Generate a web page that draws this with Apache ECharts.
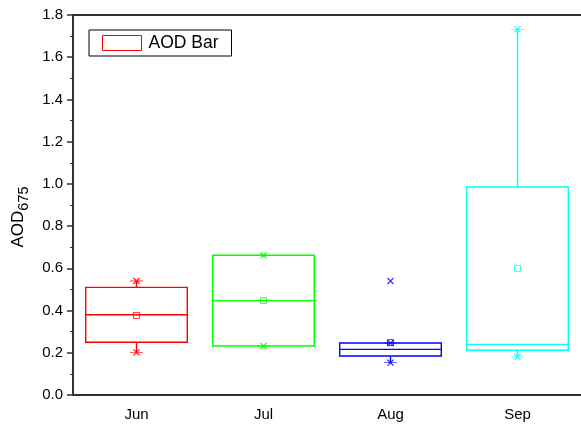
<!DOCTYPE html>
<html>
<head>
<meta charset="utf-8">
<script src="https://cdn.jsdelivr.net/npm/echarts@6/dist/echarts.min.js"></script>
<style>
  html, body { margin: 0; padding: 0; background: #fff; }
  #chart { width: 581px; height: 430px; }
</style>
</head>
<body>
<div id="chart"></div>
<script>
// months on the x axis
var months = ['Jun', 'Jul', 'Aug', 'Sep'];
// box statistics (AOD 675)
var whiskerMin = [0.202, 0.232, 0.153, 0.181];
var q1 = [0.250, 0.232, 0.185, 0.212];
var median = [0.380, 0.447, 0.216, 0.240];
var q3 = [0.510, 0.662, 0.246, 0.985];
var whiskerMax = [0.540, 0.662, 0.246, 1.732];
var mean = [0.377, 0.447, 0.248, 0.600];
// outliers: [month index, value]
var outliers = [[2, 0.540]];
var yTicks = [0, 0.2, 0.4, 0.6, 0.8, 1.0, 1.2, 1.4, 1.6, 1.8];

var monthColors = ['#ff0000', '#00ff00', '#0000ff', '#00ffff'];
var axisColor = '#333333';
var font = 'Liberation Sans, Arial, sans-serif';
var starPath = 'path://M0,3L13,3M3.5,0L9.5,6M9.5,0L3.5,6';
var crossPath = 'path://M0,0L6,6M6,0L0,6';

var boxData = months.map(function (m, i) {
  return [i, whiskerMin[i], q1[i], median[i], q3[i], whiskerMax[i]];
});

var meanData = months.map(function (m, i) {
  return {
    value: [i, mean[i]],
    itemStyle: { color: 'transparent', borderColor: monthColors[i], borderWidth: 1 }
  };
});

var extremeData = [];
months.forEach(function (m, i) {
  [whiskerMin[i], whiskerMax[i]].forEach(function (v) {
    extremeData.push({
      value: [i, v],
      itemStyle: { color: 'transparent', borderColor: monthColors[i], borderWidth: 1.2 }
    });
  });
});

var outlierData = outliers.map(function (o) {
  return {
    value: o,
    itemStyle: { color: 'transparent', borderColor: monthColors[o[0]], borderWidth: 1.2 }
  };
});

function renderBox(params, api) {
  var i = api.value(0);
  var c = monthColors[i];
  var w = api.size([1, 0])[0] * 0.8;
  var pMin = api.coord([i, api.value(1)]);
  var pQ1 = api.coord([i, api.value(2)]);
  var pMed = api.coord([i, api.value(3)]);
  var pQ3 = api.coord([i, api.value(4)]);
  var pMax = api.coord([i, api.value(5)]);
  var x0 = pQ1[0] - w / 2;
  var st = { stroke: c, lineWidth: 1.4, fill: null };
  return {
    type: 'group',
    children: [
      { type: 'line', shape: { x1: pMax[0], y1: pMax[1], x2: pQ3[0], y2: pQ3[1] }, style: st },
      { type: 'line', shape: { x1: pMin[0], y1: pMin[1], x2: pQ1[0], y2: pQ1[1] }, style: st },
      { type: 'rect', shape: { x: x0, y: pQ3[1], width: w, height: pQ1[1] - pQ3[1] }, style: st },
      { type: 'line', shape: { x1: x0, y1: pMed[1], x2: x0 + w, y2: pMed[1] }, style: st }
    ]
  };
}

var myChart = echarts.init(document.getElementById('chart'));
var option = {
  animation: false,
  textStyle: { fontFamily: font },
  grid: { left: 73, right: -2, top: 15, bottom: 35 },
  legend: {
    data: ['AOD Bar'],
    left: 89,
    top: 30,
    icon: 'rect',
    itemWidth: 39,
    itemHeight: 15,
    itemGap: 0,
    itemStyle: { color: 'transparent', borderColor: '#ff0000', borderWidth: 1 },
    borderColor: '#000',
    borderWidth: 1,
    borderRadius: 0,
    padding: [4, 13, 4, 13],
    textStyle: { fontSize: 17.5, color: '#000', fontFamily: font, padding: [0, 0, 0, 2] }
  },
  xAxis: [{
    type: 'category',
    data: months,
    boundaryGap: true,
    axisLine: { lineStyle: { color: axisColor, width: 2 } },
    axisTick: { alignWithLabel: true, length: 5, lineStyle: { color: axisColor, width: 1.5 } },
    axisLabel: { fontSize: 15, color: '#000', margin: 12 },
    splitLine: { show: false }
  }, {
    type: 'category',
    data: months,
    position: 'top',
    axisLine: { lineStyle: { color: axisColor, width: 2 } },
    axisTick: { show: false },
    axisLabel: { show: false }
  }],
  yAxis: {
    type: 'value',
    min: 0,
    max: 1.8,
    interval: 0.2,
    name: '{a|AOD}{b|675}',
    nameLocation: 'middle',
    nameRotate: 90,
    nameGap: 40,
    nameTextStyle: {
      padding: [0, 24, 0, 0],
      rich: {
        a: { fontSize: 17, color: '#000', lineHeight: 26, fontFamily: font },
        b: { fontSize: 14.5, color: '#000', lineHeight: 26, verticalAlign: 'bottom', fontFamily: font }
      }
    },
    axisLine: { show: true, lineStyle: { color: axisColor, width: 2 } },
    axisTick: { show: true, length: 6, lineStyle: { color: axisColor, width: 1.5 } },
    minorTick: { show: true, splitNumber: 2, length: 3, lineStyle: { color: axisColor, width: 1 } },
    axisLabel: {
      fontSize: 15,
      color: '#000',
      margin: 10,
      formatter: function (v) {
        var hit = yTicks.filter(function (t) { return Math.abs(t - v) < 1e-6; });
        return hit.length ? hit[0].toFixed(1) : '';
      }
    },
    splitLine: { show: false }
  },
  series: [
    {
      name: 'AOD Bar',
      type: 'custom',
      renderItem: renderBox,
      itemStyle: { color: '#ff0000' },
      encode: { x: 0, y: [1, 2, 3, 4, 5] },
      data: boxData,
      z: 2
    },
    {
      name: 'mean',
      type: 'scatter',
      symbol: 'rect',
      symbolSize: 6,
      data: meanData,
      z: 3
    },
    {
      name: 'extremes',
      type: 'scatter',
      symbol: starPath,
      symbolSize: [13, 6],
      data: extremeData,
      z: 3
    },
    {
      name: 'outliers',
      type: 'scatter',
      symbol: crossPath,
      symbolSize: 6,
      data: outlierData,
      z: 3
    }
  ]
};
myChart.setOption(option, true);
window.addEventListener('resize', function () {
  myChart.resize();
});
</script>
</body>
</html>
